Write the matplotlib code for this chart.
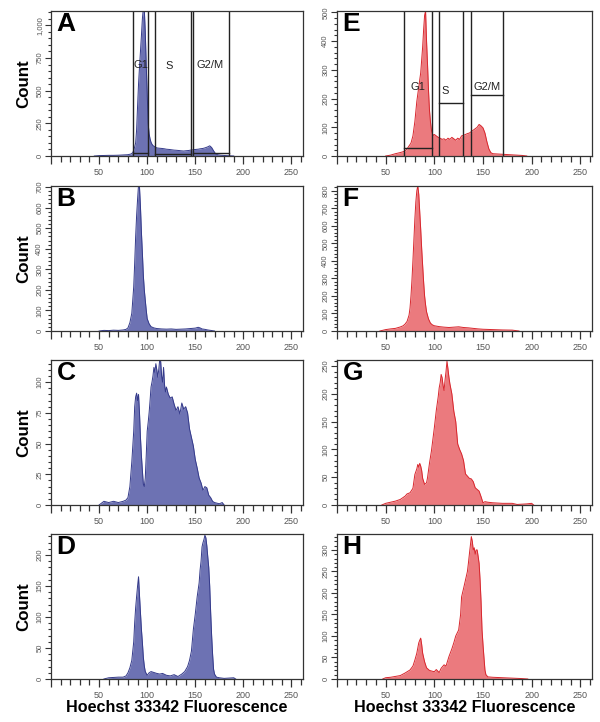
import matplotlib
matplotlib.use("Agg")
import matplotlib.pyplot as plt
from matplotlib.ticker import MultipleLocator, FuncFormatter

plt.rcParams["font.family"] = ["Liberation Sans", "DejaVu Sans"]

# histogram traces (channel, count)
a_x = [45, 50, 55, 60, 65, 70, 75, 80, 83, 85, 86, 87, 88, 89, 90, 91, 92, 93, 94, 95, 96, 97, 98, 99, 100,
       101, 102, 103, 104, 105, 106, 108, 110, 112, 115, 118, 120, 123, 125, 128, 130, 133, 135, 138, 140,
       143, 145, 148, 150, 153, 155, 158, 160, 163, 165, 167, 169, 171, 173, 176, 180, 185, 190]
a_y = [0, 3, 4, 5, 5, 6, 8, 10, 15, 25, 45, 70, 100, 200, 380, 550, 680, 800, 920, 1050, 1130, 1120, 950, 700, 480,
       250, 170, 130, 105, 90, 80, 70, 62, 60, 58, 55, 52, 50, 48, 45, 44, 42, 40, 38, 40,
       42, 45, 48, 50, 52, 55, 58, 62, 70, 78, 65, 40, 18, 10, 6, 4, 2, 0]

b_x = [50, 55, 60, 65, 70, 75, 78, 80, 82, 84, 85, 86, 87, 88, 89, 90, 91, 92, 93, 94, 95, 96, 97, 98, 99,
       100, 102, 104, 107, 110, 115, 120, 125, 130, 135, 140, 145, 150, 153, 155, 157, 160, 163, 166, 170]
b_y = [0, 3, 2, 4, 3, 5, 8, 15, 40, 86, 150, 215, 330, 458, 560, 640, 710, 700, 604, 480, 379, 270, 200, 150, 102,
       60, 35, 21, 15, 12, 10, 9, 10, 8, 9, 10, 12, 14, 18, 15, 10, 8, 5, 3, 0]

c_x = [50, 55, 60, 65, 70, 75, 78, 80, 82, 84, 86, 87, 88, 89, 90, 91, 92, 93, 94, 95, 96, 97, 98, 99, 100,
       101, 102, 103, 104, 105, 106, 107, 108, 109, 110, 111, 112, 113, 114, 115, 116, 117, 118, 119, 120,
       122, 124, 126, 128, 130, 132, 134, 136, 138, 140, 142, 144, 146, 148, 150, 152, 154, 156, 158, 160,
       162, 164, 166, 168, 170, 175, 178, 180]
c_y = [0, 3, 2, 3, 2, 3, 4, 6, 15, 35, 60, 80, 88, 91, 85, 90, 75, 55, 40, 28, 17, 15, 22, 40, 60,
       67, 75, 85, 96, 100, 105, 112, 108, 115, 110, 104, 110, 118, 117, 105, 100, 112, 98, 92, 96,
       90, 87, 88, 82, 77, 80, 74, 83, 78, 80, 75, 62, 55, 48, 37, 30, 22, 18, 12, 15,
       14, 8, 6, 3, 2, 1, 2, 0]

d_x = [55, 60, 70, 75, 78, 80, 82, 84, 86, 87, 88, 89, 90, 91, 92, 93, 94, 95, 96, 97, 98, 100, 102, 104,
       106, 108, 110, 113, 116, 120, 124, 128, 132, 136, 139, 142, 144, 146, 148, 150, 152, 154, 155, 156,
       157, 158, 159, 160, 161, 162, 163, 164, 165, 166, 167, 168, 169, 170, 172, 175, 180, 190, 192]
d_y = [0, 2, 3, 3, 5, 10, 18, 30, 60, 91, 115, 133, 150, 165, 135, 107, 80, 59, 35, 21, 12, 6, 10, 12,
       11, 10, 9, 8, 9, 6, 5, 7, 4, 8, 12, 20, 30, 45, 80, 105, 133, 155, 176, 190,
       213, 220, 225, 232, 228, 215, 197, 180, 150, 107, 70, 40, 16, 8, 3, 2, 1, 2, 0]

e_x = [50, 55, 60, 65, 68, 70, 72, 74, 76, 78, 80, 82, 84, 86, 88, 89, 90, 91, 92, 93, 94, 95, 96, 97, 98,
       99, 100, 102, 104, 106, 108, 110, 112, 114, 116, 118, 120, 122, 124, 126, 128, 130, 132, 134, 136,
       138, 140, 142, 144, 146, 148, 150, 152, 154, 156, 158, 160, 165, 170, 175, 180, 185, 190, 195]
e_y = [0, 3, 8, 12, 15, 18, 25, 35, 45, 70, 120, 190, 240, 290, 380, 440, 490, 505, 400, 320, 230, 160, 120, 90, 78,
       72, 75, 70, 65, 62, 58, 60, 55, 62, 58, 65, 60, 55, 62, 58, 70, 72, 75, 78, 80,
       85, 90, 95, 100, 110, 105, 98, 80, 50, 25, 12, 8, 7, 6, 5, 4, 3, 2, 0]

f_x = [44, 50, 55, 60, 65, 68, 70, 72, 74, 75, 76, 77, 78, 79, 80, 81, 82, 83, 84, 85, 86, 87, 88, 89, 90,
       91, 92, 94, 96, 98, 100, 105, 110, 115, 120, 125, 130, 135, 140, 145, 150, 160, 170, 180, 187]
f_y = [0, 8, 12, 15, 23, 30, 40, 55, 90, 130, 200, 290, 400, 520, 640, 737, 800, 830, 780, 680, 580, 470, 373, 280, 200,
       150, 110, 69, 45, 35, 30, 25, 22, 20, 22, 24, 20, 18, 15, 12, 10, 8, 6, 5, 0]

g_x = [46, 50, 55, 60, 65, 70, 72, 75, 78, 80, 82, 83, 84, 85, 86, 87, 88, 90, 92, 93, 95, 97, 99, 100,
       102, 104, 105, 106, 107, 108, 109, 110, 111, 112, 113, 114, 115, 116, 118, 120, 122, 124, 126, 128,
       130, 132, 134, 136, 138, 140, 142, 144, 146, 148, 150, 152, 155, 160, 170, 180, 185, 195, 200, 202]
g_y = [0, 3, 5, 7, 10, 16, 20, 22, 30, 55, 65, 73, 68, 75, 70, 62, 48, 37, 40, 49, 75, 97, 125, 139,
       170, 195, 211, 220, 235, 229, 215, 206, 225, 240, 259, 245, 230, 218, 200, 169, 150, 110, 100, 92,
       80, 56, 52, 48, 47, 42, 31, 28, 25, 15, 4, 6, 5, 4, 3, 3, 1, 2, 3, 0]

h_x = [47, 50, 55, 60, 65, 70, 75, 78, 80, 82, 84, 85, 86, 87, 88, 90, 92, 95, 98, 100, 102, 105, 107, 110,
       112, 115, 118, 120, 122, 125, 127, 128, 130, 132, 134, 135, 136, 137, 138, 139, 140, 141, 142, 143,
       144, 145, 146, 147, 148, 149, 150, 151, 152, 153, 155, 160, 170, 180, 190, 196]
h_y = [0, 3, 4, 6, 8, 14, 21, 30, 44, 60, 84, 90, 95, 80, 60, 40, 26, 20, 18, 17, 22, 15, 25, 33,
       30, 52, 70, 84, 100, 114, 150, 191, 210, 230, 250, 269, 290, 310, 331, 320, 300, 305, 290, 300,
       300, 285, 269, 230, 180, 114, 80, 50, 21, 10, 5, 4, 3, 2, 1, 0]

# cell cycle gates: name, left, right, bar height, label x, label y
gates_a = [("G1", 85, 101, 25, 94, 700), ("S", 108.6, 145.5, 13, 123, 690), ("G2/M", 147.6, 185, 25, 165, 700)]
gates_e = [("G1", 68.8, 97.2, 28, 83, 241), ("S", 104.4, 129.6, 186, 111, 228), ("G2/M", 137.4, 170.4, 213, 154, 241)]

BLUE_FILL, BLUE_EDGE = "#6d72b3", "#343a8a"
RED_FILL, RED_EDGE = "#eb7a7e", "#d8262d"

# letter, x, y, colour pair, ymax, major, minor, gates
panels = [
    ("A", a_x, a_y, "blue", 1110, 250, 50, gates_a),
    ("B", b_x, b_y, "blue", 705, 100, 20, None),
    ("C", c_x, c_y, "blue", 118, 25, 5, None),
    ("D", d_x, d_y, "blue", 234, 50, 10, None),
    ("E", e_x, e_y, "red", 505, 100, 20, gates_e),
    ("F", f_x, f_y, "red", 828, 100, 20, None),
    ("G", g_x, g_y, "red", 261, 50, 10, None),
    ("H", h_x, h_y, "red", 337, 50, 10, None),
]

W, H = 600, 722
fig = plt.figure(figsize=(W / 100, H / 100), dpi=100)
col_left = [51, 337]
col_width = [252, 255]
row_top = [11, 186, 360, 534]
row_h = 145

for i, (letter, xs, ys, col, ymax, major, minor, gates) in enumerate(panels):
    c, r = divmod(i, 4)
    ax = fig.add_axes([col_left[c] / W, 1 - (row_top[r] + row_h) / H, col_width[c] / W, row_h / H])
    fill, edge = (BLUE_FILL, BLUE_EDGE) if col == "blue" else (RED_FILL, RED_EDGE)
    ax.fill_between(xs, ys, 0, color=fill, lw=0)
    ax.plot(xs, ys, color=edge, lw=0.7)
    ax.set_xlim(0, 262)
    ax.set_ylim(0, ymax)

    if gates:
        for name, lo, hi, bar, lx, ly in gates:
            ax.axvline(lo, color="#222222", lw=1)
            ax.axvline(hi, color="#222222", lw=1)
            ax.plot([lo, hi], [bar, bar], color="#222222", lw=1)
            ax.text(lx, ly, name, ha="center", va="center", fontsize=8, color="#222222")

    ax.xaxis.set_major_locator(MultipleLocator(50))
    ax.xaxis.set_minor_locator(MultipleLocator(10))
    ax.yaxis.set_major_locator(MultipleLocator(major))
    ax.yaxis.set_minor_locator(MultipleLocator(minor))
    ax.yaxis.set_major_formatter(FuncFormatter(lambda v, p: f"{int(v):,}"))
    ax.xaxis.set_major_formatter(FuncFormatter(lambda v, p: "" if v == 0 else f"{int(v)}"))
    ax.tick_params(axis="x", which="major", length=6, width=0.9, labelsize=6.5, colors="#333333",
                   labelcolor="#555555", pad=2.5)
    ax.tick_params(axis="x", which="minor", length=4, width=0.9, colors="#333333")
    ax.tick_params(axis="y", which="major", length=4, width=0.8, labelsize=5.5, colors="#333333",
                   labelcolor="#555555", labelrotation=90, pad=1.5)
    ax.tick_params(axis="y", which="minor", length=2.5, width=0.8, colors="#333333")
    for lab in ax.get_yticklabels():
        lab.set_va("center")
    for s in ax.spines.values():
        s.set_color("#333333")
        s.set_linewidth(0.9)

    ax.text(0.022, 0.99, letter, transform=ax.transAxes, ha="left", va="top",
            fontsize=19, fontweight="bold")

    if c == 0:
        fig.text(24 / W, 1 - (row_top[r] + row_h / 2) / H, "Count", rotation=90,
                 ha="center", va="center", fontsize=12.2, fontweight="bold")
    if r == 3:
        fig.text((col_left[c] + col_width[c] / 2) / W, 1 - 708 / H, "Hoechst 33342 Fluorescence",
                 ha="center", va="center", fontsize=11.6, fontweight="bold")

fig.savefig("out.png", dpi=100)
